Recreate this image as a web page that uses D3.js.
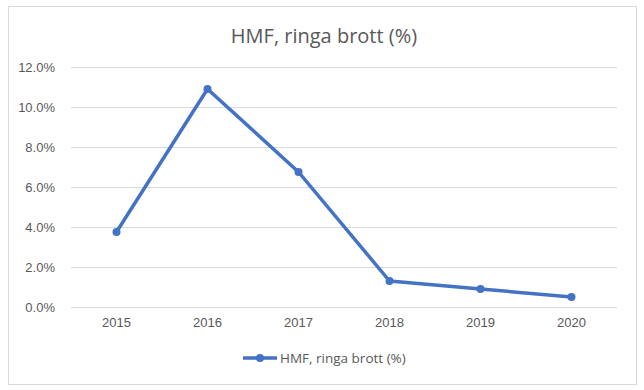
<!DOCTYPE html>
<html>
<head>
<meta charset="utf-8">
<script src="https://cdn.jsdelivr.net/npm/d3@7"></script>
<style>
  body { margin: 0; background: #fff; }
  svg { font-family: "Open Sans", "Noto Sans", sans-serif; }
</style>
</head>
<body>
<div id="chart"></div>
<script>
var years = ["2015", "2016", "2017", "2018", "2019", "2020"];
var values = [3.75, 10.9, 6.75, 1.3, 0.9, 0.5];
var yTicks = [0, 2, 4, 6, 8, 10, 12];
var title = "HMF, ringa brott (%)";

var width = 644, height = 390;
var margin = { left: 71, right: 27, top: 67, bottom: 83 };

var svg = d3.select("#chart").append("svg")
  .attr("width", width)
  .attr("height", height);

// chart border
svg.append("rect")
  .attr("x", 8.5).attr("y", 6.5)
  .attr("width", 628).attr("height", 378)
  .attr("fill", "#fff")
  .attr("stroke", "#d9d9d9");

var x = d3.scaleBand()
  .domain(years)
  .range([margin.left, width - margin.right]);

var y = d3.scaleLinear()
  .domain([0, 12])
  .range([height - margin.bottom, margin.top]);

// gridlines
svg.append("g")
  .selectAll("line")
  .data(yTicks)
  .enter()
  .append("line")
  .attr("x1", margin.left)
  .attr("x2", width - margin.right)
  .attr("y1", function(d) { return y(d) + 0.5; })
  .attr("y2", function(d) { return y(d) + 0.5; })
  .attr("stroke", "#d9d9d9")
  .attr("stroke-width", 1);

var yAxis = d3.axisLeft(y)
  .tickValues(yTicks)
  .tickSize(0)
  .tickPadding(16)
  .tickFormat(function(d) { return d.toFixed(1) + "%"; });

var gy = svg.append("g")
  .attr("transform", "translate(" + margin.left + ",0)")
  .call(yAxis);
gy.select(".domain").remove();
gy.selectAll("text")
  .attr("fill", "#595959")
  .style("font-size", "13px");

var xAxis = d3.axisBottom(x).tickSize(0).tickPadding(11);
var gx = svg.append("g")
  .attr("transform", "translate(0," + (height - margin.bottom) + ")")
  .call(xAxis);
gx.select(".domain").remove();
gx.selectAll("text")
  .attr("fill", "#595959")
  .style("font-size", "13px");

var line = d3.line()
  .x(function(d, i) { return x(years[i]) + x.bandwidth() / 2; })
  .y(function(d) { return y(d); });

svg.append("path")
  .datum(values)
  .attr("d", line)
  .attr("fill", "none")
  .attr("stroke", "#4472c4")
  .attr("stroke-width", 3.5)
  .attr("stroke-linejoin", "round");

svg.selectAll(".dot")
  .data(values)
  .enter()
  .append("circle")
  .attr("class", "dot")
  .attr("cx", function(d, i) { return x(years[i]) + x.bandwidth() / 2; })
  .attr("cy", function(d) { return y(d); })
  .attr("r", 4)
  .attr("fill", "#4472c4");

// title
svg.append("text")
  .attr("x", width / 2 + 2)
  .attr("y", 43)
  .attr("text-anchor", "middle")
  .attr("fill", "#595959")
  .style("font-size", "20px")
  .text(title);

// legend
var legend = svg.append("g").attr("transform", "translate(243,358)");
legend.append("line")
  .attr("x1", 0).attr("x2", 34)
  .attr("y1", 0).attr("y2", 0)
  .attr("stroke", "#4472c4")
  .attr("stroke-width", 3.5);
legend.append("circle")
  .attr("cx", 17).attr("cy", 0).attr("r", 4)
  .attr("fill", "#4472c4");
legend.append("text")
  .attr("x", 37).attr("y", 5)
  .attr("fill", "#595959")
  .style("font-size", "13.5px")
  .text(title);
</script>
</body>
</html>
